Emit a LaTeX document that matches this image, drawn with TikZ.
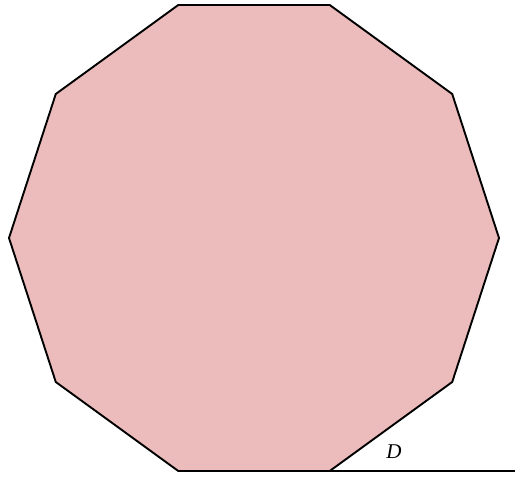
\documentclass[tikz,border=0pt]{standalone}
\usetikzlibrary{calc}
\usepackage{fontspec}
\setmainfont{Liberation Serif}
\begin{document}
\begin{tikzpicture}[x=1pt,y=1pt,
  poly/.style={draw=black,line width=1.9pt,fill={rgb,255:red,236;green,187;blue,187},line join=miter},
  edge/.style={draw=black,line width=1.9pt}]
\useasboundingbox (0,0) rectangle (515,477);
\foreach \i in {0,...,9} {
  \coordinate (v\i) at ($(254,239)+({36*\i}:245)$);
}
\path[poly] (v0)--(v1)--(v2)--(v3)--(v4)--(v5)--(v6)--(v7)--(v8)--(v9)--cycle;
\path let \p1=(v8) in coordinate (e) at (515,\y1);
\draw[edge] (v8) -- (e);
\node[font=\itshape\fontsize{21}{24}\selectfont] (d) at (394,25) {D};
\end{tikzpicture}
\end{document}
